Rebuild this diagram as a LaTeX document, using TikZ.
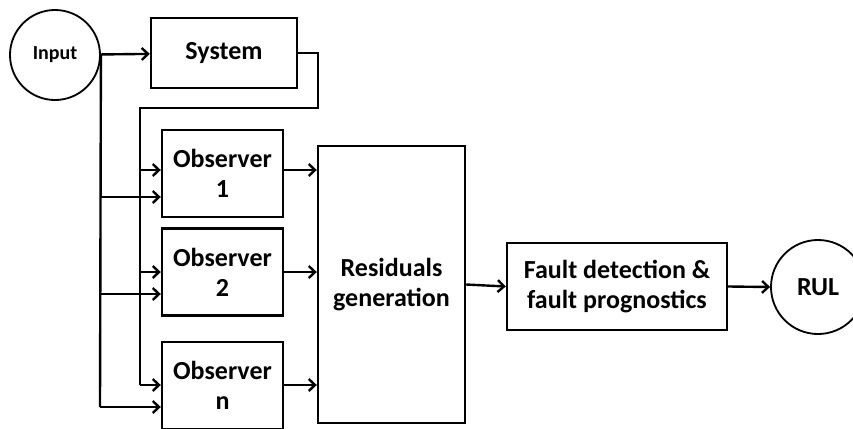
\documentclass[tikz,border=0pt]{standalone}
\usepackage{fontspec}
\setmainfont{Carlito}
\usetikzlibrary{arrows.meta}
\tikzset{
  block/.style={draw,line width=1.7pt,font=\fontsize{18.5}{21.5}\selectfont\bfseries,align=center,inner sep=0pt},
  obs/.style={block,minimum width=3.025cm,minimum height=2.175cm},
  io/.style={draw,circle,line width=1.3pt,inner sep=0pt},
  flow/.style={line width=1.7pt,-{Straight Barb[length=4.5pt,width=8.5pt]}},
}
\begin{document}
\begin{tikzpicture}[x=0.025cm,y=-0.025cm]
\useasboundingbox (0,0) rectangle (853,428);
\node[io,minimum size=2.25cm,font=\fontsize{14.2}{17}\selectfont\bfseries] (input) at (55,55) {Input};
\node[block,minimum width=3.65cm,minimum height=1.75cm] (sys) at (224,53) {System};
\node[obs] (obs1) at (222.5,173.5) {Observer\\1};
\node[obs] (obs2) at (222.5,272) {Observer\\2};
\node[obs] (obsn) at (222.5,385.5) {Observer\\n};
\node[block,minimum width=3.675cm,minimum height=6.925cm] (res) at (391.5,284.5) {Residuals\\generation};
\node[block,minimum width=5.5cm,minimum height=2.175cm] (fault) at (617,286.5) {Fault detection \&\\fault prognostics};
\node[io,minimum size=2.35cm,font=\fontsize{18.5}{21.5}\selectfont\bfseries] (rul) at (818,287) {RUL};
\coordinate (fb) at (140,108);
\draw[flow] (input) -- (sys);
\draw[line width=1.7pt] (sys.east) -| (318,108) -- (fb) -- (140,385);
\draw[line width=1.7pt] (input.east) -- (100,407);
\foreach \o/\ya/\yb in {obs1/170/197, obs2/272/294, obsn/385/407}{
  \draw[flow] (140,\ya) -- (140,\ya -| \o.west);
  \draw[flow] (100,\yb) -- (100,\yb -| \o.west);
  \draw[flow] (\o.east |- 0,\ya) -- (res.west |- 0,\ya);
}
\draw[flow] (res.east) -- (fault.west);
\draw[flow] (fault.east) -- (rul.west);
\end{tikzpicture}
\end{document}
